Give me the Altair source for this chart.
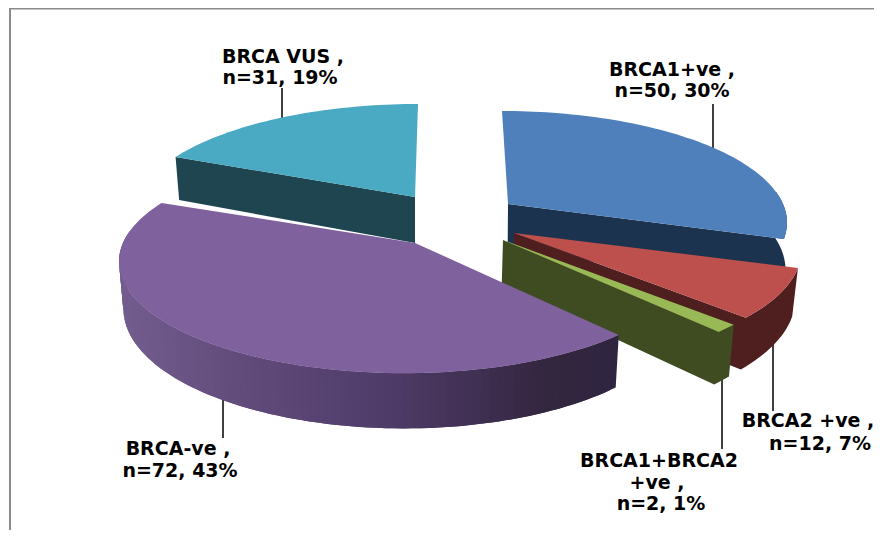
import math
import altair as alt

# --- chart values -----------------------------------------------------------
names = ["BRCA1+ve ,", "BRCA2 +ve ,", "BRCA1+BRCA2\n+ve ,", "BRCA-ve ,", "BRCA VUS ,"]
counts = [50, 12, 2, 72, 31]
top_colors = ["#4f80bc", "#bd4f4c", "#98b956", "#7f619d", "#4aa9c3"]
wall_colors = ["#1c334f", "#4f1f1f", "#3f4c22", None, "#1f4550"]
purple_stops = [(120, "#725d8e"), (250, "#604a7a"), (390, "#4f3b68"), (550, "#33263f"), (620, "#2f2540")]

# exploded position of each slice: (tip x, tip y, arc centre x, arc centre y)
slice_pos = [
    (508, 204, 502, 204),
    (514, 233, 516, 233),
    (503, 240, 504, 240),
    (415, 243, 404, 243),
    (415, 197, 418, 197),
]
# how far the lower rim of each slice leans in
slice_lean = [0.004, 0.015, 0.015, 0.015, 0.015]
# drawing order, back to front
draw_order = [4, 0, 1, 2, 3]

# label anchors: centre x and y of every line
label_xy = [
    [(672, 70), (672, 91)],
    [(808, 421), (820, 444)],
    [(659, 461), (657, 483), (661, 504)],
    [(178, 449), (180, 471)],
    [(283, 57), (280, 78)],
]
leaders = [
    (713, 104, 713, 150),
    (773, 340, 773, 411),
    (722, 370, 722, 449),
    (223, 395, 223, 438),
    (282, 88, 282, 122),
]

# --- pie geometry (perspective disc) ----------------------------------------
A, B, K, H = 281.0, 108.5, 0.1667, 46.0
VX = 415.0   # lower rim leans towards this x
M = 8  # page margin
total = sum(counts)


def proj(deg, cx, cy):
    r = math.radians(deg)
    X, Y = math.sin(r), math.cos(r)
    s = 1 / (1 + K * Y)
    return cx + A * X * s, cy - B * Y * s, H * s


def hexmix(stops, x):
    if x <= stops[0][0]:
        return stops[0][1]
    for (x0, c0), (x1, c1) in zip(stops, stops[1:]):
        if x <= x1:
            t = (x - x0) / (x1 - x0)
            a = [int(c0[i:i + 2], 16) for i in (1, 3, 5)]
            b = [int(c1[i:i + 2], 16) for i in (1, 3, 5)]
            return "#%02x%02x%02x" % tuple(round(p + (q - p) * t) for p, q in zip(a, b))
    return stops[-1][1]


def feat(points, fill):
    pts = [[p[0] - M, p[1] - M] for p in points]
    if pts[0] != pts[-1]:
        pts.append(pts[0])
    return {"type": "Feature", "geometry": {"type": "Polygon", "coordinates": [pts]},
            "properties": {"fill": fill}}


def line(points, colour, width):
    return {"type": "Feature",
            "geometry": {"type": "LineString", "coordinates": [[p[0] - M, p[1] - M] for p in points]},
            "properties": {"stroke": colour, "width": width}}


starts, acc = [], 0.0
for c in counts:
    starts.append(acc)
    acc += c / total * 360.0

faces = []
for i in draw_order:
    tx, ty, cx, cy = slice_pos[i]
    lean = slice_lean[i]

    def low(x, y, h):
        return (x + (VX - x) * lean, y + h)

    a0 = starts[i]
    a1 = a0 + counts[i] / total * 360.0
    n = max(2, int((a1 - a0) / 1.5))
    angles = [a0 + (a1 - a0) * j / n for j in range(n + 1)]
    arc = [proj(a, cx, cy) for a in angles]
    wall = wall_colors[i]
    tip_low = low(tx, ty, H)
    front = [p for a, p in zip(angles, arc) if math.cos(math.radians(a)) < 0.12]
    if wall:
        end_visible = math.cos(math.radians(a1 + 90)) < -1e-6
        start_visible = math.cos(math.radians(a0 - 90)) < -1e-6
        if end_visible:
            # outer rim plus the cut face at its end, as a single outline
            rim = front or [arc[-1]]
            pts = [(p[0], p[1]) for p in rim] + [(tx, ty), tip_low]
            pts += [low(*p) for p in reversed(rim)]
            faces.append(feat(pts, wall))
        if start_visible:
            p = arc[0]
            faces.append(feat([(tx, ty), (p[0], p[1]), low(*p), tip_low], wall))
    else:
        # narrow overlapping strips painted in turn carry the shading
        for j in range(len(front) - 1):
            p, q = front[j], front[min(j + 2, len(front) - 1)]
            mid = front[j + 1]
            faces.append(feat([(p[0], p[1]), (mid[0], mid[1]), (q[0], q[1]), low(*q), low(*mid), low(*p)],
                              hexmix(purple_stops, (p[0] + mid[0]) / 2)))
    # the top face
    faces.append(feat([(tx, ty)] + [(p[0], p[1]) for p in arc], top_colors[i]))

lines = [line([(x0, y0), (x1, y1)], "#000000", 1.5) for x0, y0, x1, y1 in leaders]
lines.append(line([(10, 8.6), (874, 8.6)], "#8a8a8a", 1.6))
lines.append(line([(10, 8), (10, 530)], "#8a8a8a", 2))

label_rows = []
for name, c, xy in zip(names, counts, label_xy):
    texts = name.split("\n") + [f"n={c}, {round(c / total * 100)}%"]
    for t, (x, y) in zip(texts, xy):
        label_rows.append({"t": t, "lon": x - M, "lat": y - M})

identity = dict(type="identity", scale=1, translate=[0, 0])

line_layer = alt.Chart(alt.Data(values=lines)).mark_geoshape(filled=False).encode(
    stroke=alt.Stroke("properties.stroke:N", scale=None),
    strokeWidth=alt.StrokeWidth("properties.width:Q", scale=None),
).project(**identity)

face_layer = alt.Chart(alt.Data(values=faces)).mark_geoshape(strokeWidth=0, opacity=1, fillOpacity=1).encode(
    fill=alt.Fill("properties.fill:N", scale=None),
).project(**identity)

text_layer = alt.Chart(alt.Data(values=label_rows)).mark_text(
    font="DejaVu Sans", fontWeight="bold", fontSize=19, color="#000000", baseline="middle", align="center"
).encode(
    longitude="lon:Q", latitude="lat:Q", text="t:N"
).project(**identity)

chart = alt.layer(line_layer, face_layer, text_layer).properties(
    width=866, height=522, padding=0, background="white", autosize=alt.AutoSizeParams(type="none")
).configure_view(stroke=None)

chart.save("out.html", embed_options={"renderer": "svg", "actions": False})
